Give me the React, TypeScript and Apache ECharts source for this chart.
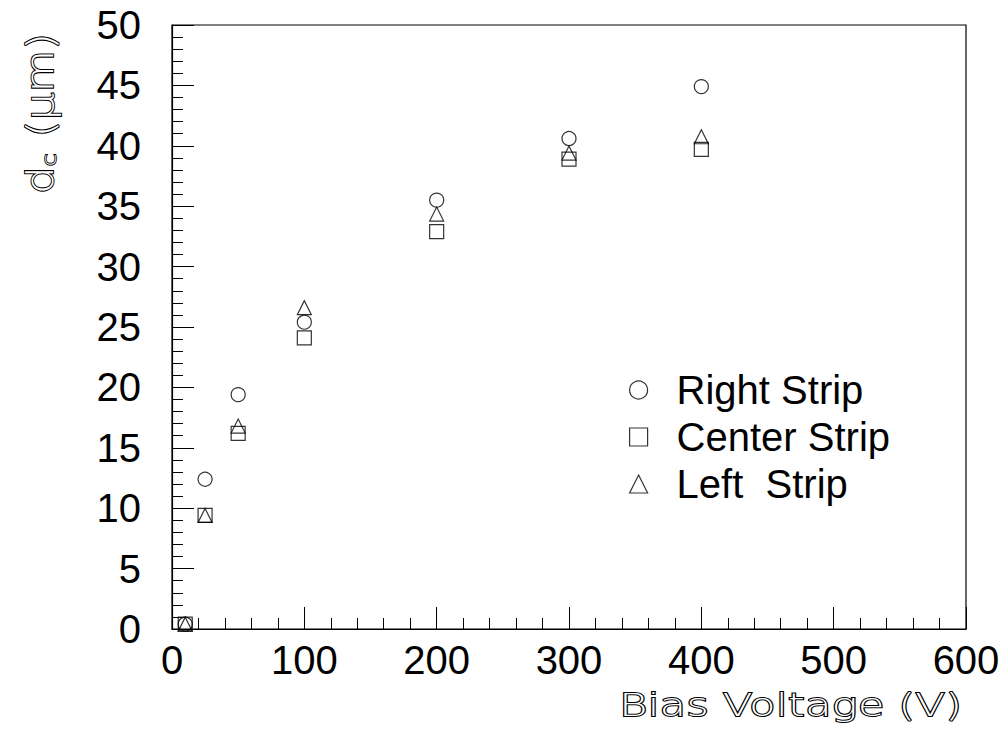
import React, { useEffect, useRef } from "react";
import * as echarts from "echarts";

const voltages = [10, 25, 50, 100, 200, 300, 400];
const rightStrip = [0.4, 12.4, 19.4, 25.4, 35.5, 40.6, 44.9];
const centerStrip = [0.4, 9.4, 16.2, 24.1, 32.9, 38.9, 39.7];
const leftStrip = [0.4, 9.4, 16.8, 26.6, 34.35, 39.4, 40.75];

const FONT = "'Liberation Sans', Arial, sans-serif";
const TFONT = "'DejaVu Sans', sans-serif";

const pairs = (ys: number[]) => voltages.map((v, i) => [v, ys[i]]);

export default function App() {
  const ref = useRef<HTMLDivElement>(null);
  useEffect(() => {
    document.body.style.margin = "0";
    if (!ref.current) return;
    const chart = echarts.init(ref.current, null, { renderer: "svg" });
    const markerStyle = { color: "rgba(0,0,0,0)", borderColor: "#000", borderWidth: 1.2 };
    const mk = (name: string, symbol: string, data: number[][]) => ({
      name,
      type: "scatter",
      symbol,
      symbolSize: 14,
      data,
      itemStyle: markerStyle,
      emphasis: { disabled: true },
    });
    const titleStyle = { fill: "#fff", stroke: "#000", lineWidth: 2, fontFamily: TFONT, fontWeight: 200 };
    chart.setOption({
      animation: false,
      backgroundColor: "#fff",
      grid: {
        left: 172,
        right: 40,
        top: 25,
        bottom: 105,
        show: true,
        borderColor: "#000",
        borderWidth: 1.2,
        containLabel: false,
      },
      xAxis: {
        type: "value",
        min: 0,
        max: 600,
        interval: 100,
        axisLine: { show: true, lineStyle: { color: "#000", width: 1.2 } },
        axisTick: { show: true, inside: true, length: 22, lineStyle: { color: "#000", width: 1 } },
        minorTick: { show: true, splitNumber: 5, length: 11, lineStyle: { color: "#000", width: 1 } },
        splitLine: { show: false },
        axisLabel: { color: "#000", fontSize: 40, fontFamily: FONT, margin: 11 },
      },
      yAxis: {
        type: "value",
        min: 0,
        max: 50,
        interval: 5,
        axisLine: { show: true, lineStyle: { color: "#000", width: 1.2 } },
        axisTick: { show: true, inside: true, length: 22, lineStyle: { color: "#000", width: 1 } },
        minorTick: { show: true, splitNumber: 5, length: 11, lineStyle: { color: "#000", width: 1 } },
        splitLine: { show: false },
        axisLabel: { color: "#000", fontSize: 40, fontFamily: FONT, margin: 31 },
      },
      legend: {
        show: true,
        orient: "vertical",
        left: 624,
        top: 365,
        itemWidth: 18,
        itemHeight: 18,
        itemGap: 7,
        selectedMode: false,
        textStyle: { color: "#000", fontSize: 40, fontFamily: FONT, lineHeight: 40, padding: [0, 0, 0, 24] },
        data: [
          { name: "Right Strip", icon: "circle", itemStyle: markerStyle },
          { name: "Center Strip", icon: "rect", itemStyle: markerStyle },
          { name: "Left  Strip", icon: "triangle", itemStyle: markerStyle },
        ],
      },
      graphic: [
        {
          type: "text",
          x: 619,
          y: 705,
          scaleX: 1.36,
          style: {
            text: "Bias Voltage (V)",
            fontSize: 32,
            ...titleStyle,
            textAlign: "left",
            textVerticalAlign: "middle",
          },
        },
        {
          type: "text",
          x: 40,
          y: 194,
          rotation: Math.PI / 2,
          scaleX: 1.15,
          style: {
            text: "{a|d}{b|c}{a| (μm)}",
            fontFamily: TFONT,
            fontWeight: 200,
            textAlign: "left",
            textVerticalAlign: "middle",
            rich: {
              a: { fontSize: 38, ...titleStyle },
              b: { fontSize: 20, ...titleStyle, lineWidth: 1.7, verticalAlign: "bottom", padding: [14, 2, 0, 0] },
            },
          },
        },
      ],
      series: [
        mk("Left  Strip", "triangle", pairs(leftStrip)),
        mk("Center Strip", "rect", pairs(centerStrip)),
        mk("Right Strip", "circle", pairs(rightStrip)),
      ],
    });
    return () => chart.dispose();
  }, []);
  return <div ref={ref} style={{ width: 1006, height: 734 }} />;
}
